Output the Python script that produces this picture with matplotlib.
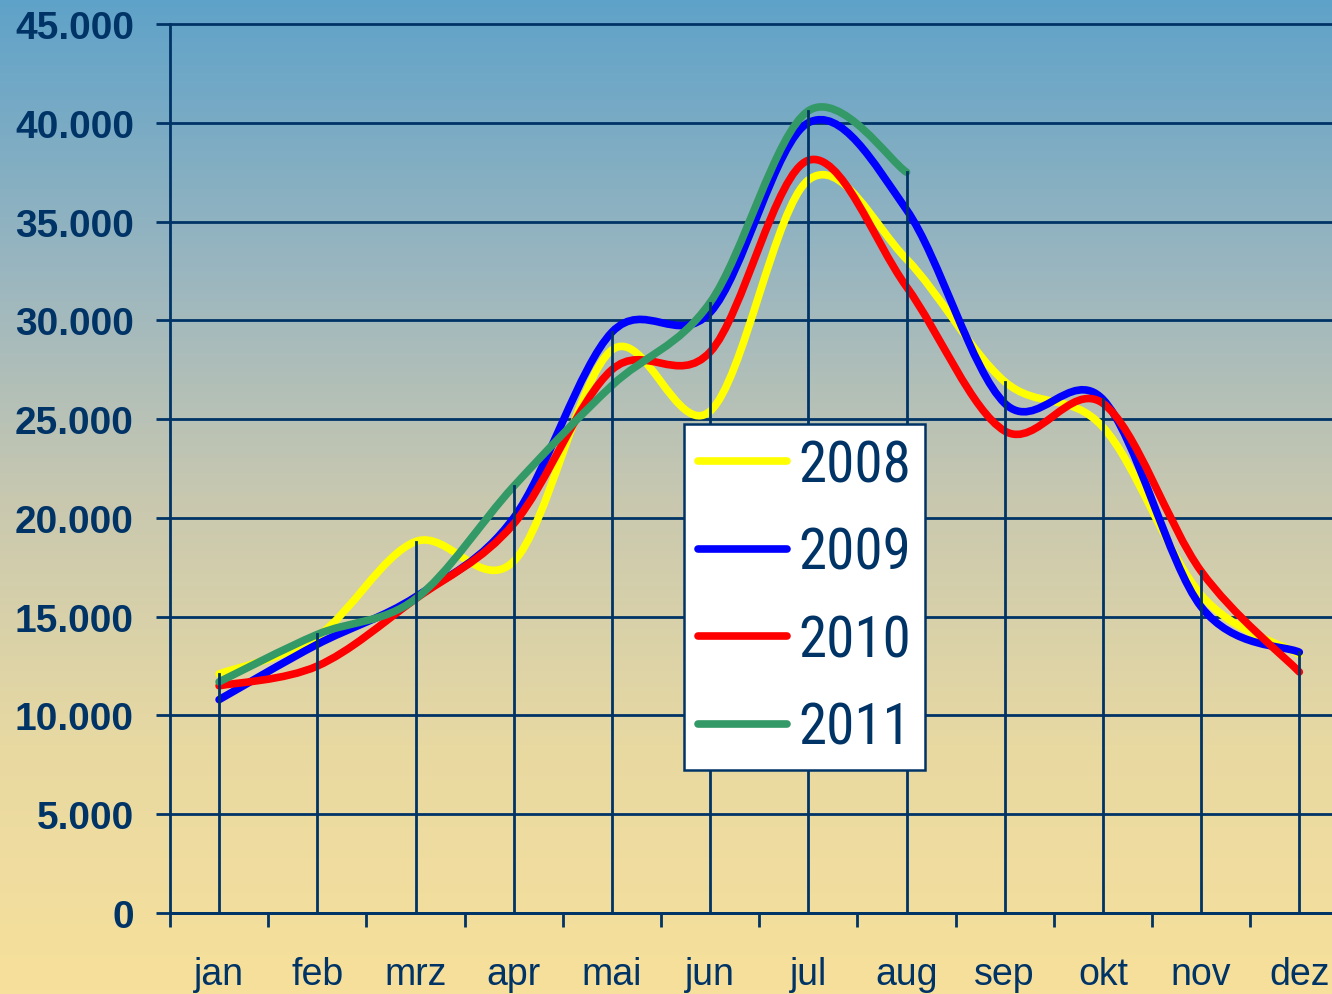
import numpy as np
import matplotlib
matplotlib.use("Agg")
import matplotlib.pyplot as plt
from matplotlib.path import Path
from matplotlib.patches import PathPatch
from matplotlib.lines import Line2D
from matplotlib.colors import LinearSegmentedColormap

months = ["jan", "feb", "mrz", "apr", "mai", "jun", "jul", "aug", "sep", "okt", "nov", "dez"]
y2008 = [12100, 14000, 18800, 17800, 28500, 25400, 37100, 33100, 26900, 24600, 16100, 13100]
y2009 = [10800, 13600, 16000, 20000, 29400, 30400, 40000, 35600, 25800, 26000, 15500, 13200]
y2010 = [11500, 12500, 15900, 19700, 27500, 28400, 38100, 31700, 24400, 25800, 17300, 12200]
y2011 = [11700, 14100, 15900, 21600, 26700, 30900, 40600, 37500]
series_labels = ["2008", "2009", "2010", "2011"]
series_values = [y2008, y2009, y2010, y2011]
series_colors = ["#FFFF00", "#0000FF", "#FF0000", "#339966"]
yticks = [0, 5000, 10000, 15000, 20000, 25000, 30000, 35000, 40000, 45000]

NAVY = "#003366"
W, H = 1332, 995
fig = plt.figure(figsize=(W / 100, H / 100), dpi=100)

bg = fig.add_axes([0, 0, 1, 1], zorder=-10)
cmap = LinearSegmentedColormap.from_list("bg", [
    (0.0, (95/255, 162/255, 201/255)),
    (0.3, (160/255, 184/255, 190/255)),
    (0.5, (200/255, 200/255, 176/255)),
    (0.75, (232/255, 217/255, 162/255)),
    (1.0, (247/255, 224/255, 155/255)),
])
grad = np.linspace(0, 1, 256).reshape(-1, 1)
bg.imshow(grad, aspect="auto", cmap=cmap, extent=[0, 1, 0, 1], origin="upper")
bg.set_axis_off()

left = 170 / W
bottom = 1 - 914 / H
top = 1 - 25 / H
step = 98.2
ax = fig.add_axes([left, bottom, 12 * step / W, top - bottom])
ax.set_facecolor("none")
ax.set_xlim(-0.5, 11.5)
ax.set_ylim(0, 45000)

for v in yticks:
    ax.axhline(v, color=NAVY, lw=2, zorder=1, clip_on=False)


def smooth_path(xs, ys):
    pts = np.column_stack([xs, ys]).astype(float)
    n = len(pts)
    verts = [pts[0]]
    codes = [Path.MOVETO]
    for i in range(n - 1):
        p0 = pts[i - 1] if i > 0 else pts[i]
        p1 = pts[i]
        p2 = pts[i + 1]
        p3 = pts[i + 2] if i + 2 < n else pts[i + 1]
        c1 = p1 + (p2 - p0) / 6.0
        c2 = p2 - (p3 - p1) / 6.0
        verts += [c1, c2, p2]
        codes += [Path.CURVE4] * 3
    return Path(verts, codes)


handles = []
for lab, vals, col in zip(series_labels, series_values, series_colors):
    xs = np.arange(len(vals))
    p = PathPatch(smooth_path(xs, vals), fill=False, edgecolor=col, lw=5.5,
                  capstyle="round", joinstyle="round", zorder=3)
    ax.add_patch(p)
    handles.append(Line2D([0], [0], color=col, lw=5.5, solid_capstyle="round", label=lab))

for i in range(len(months)):
    mx = max(s[i] for s in series_values if i < len(s))
    ax.plot([i, i], [0, mx], color=NAVY, lw=2, zorder=4)

for s in ["top", "right"]:
    ax.spines[s].set_visible(False)
for s in ["left", "bottom"]:
    ax.spines[s].set_color(NAVY)
    ax.spines[s].set_linewidth(2)
ax.spines["left"].set_zorder(5)

ax.set_yticks(yticks)
ax.set_yticklabels([f"{v:,}".replace(",", ".") for v in yticks],
                   fontsize=28, fontweight="bold", color=NAVY, family="Liberation Sans")
ax.tick_params(axis="y", length=10, width=2, color=NAVY, pad=16)

ax.set_xticks(np.arange(-0.5, 12.0, 1.0))
ax.set_xticklabels([])
ax.set_xticks(np.arange(12), minor=True)
ax.set_xticklabels(months, minor=True, fontsize=27, color=NAVY, family="Liberation Sans")
ax.tick_params(axis="x", which="major", length=10, width=2, color=NAVY)
ax.tick_params(axis="x", which="minor", length=0, pad=31)

leg = ax.legend(handles=handles, loc="upper left", bbox_to_anchor=((684 - 170) / (12 * step), 1 - (425 - 25) / 889),
                prop={"family": ["Roboto Condensed", "Open Sans Condensed", "IBM Plex Sans Condensed", "DejaVu Sans"],
                      "size": 41},
                frameon=True, fancybox=False, framealpha=1, edgecolor=NAVY,
                handlelength=1.55, handletextpad=0.2, borderpad=0.25, labelspacing=0.57,
                borderaxespad=0)
leg.get_frame().set_linewidth(1.8)
for t in leg.get_texts():
    t.set_color(NAVY)
leg.set_zorder(10)

fig.savefig("out.png", dpi=100)
